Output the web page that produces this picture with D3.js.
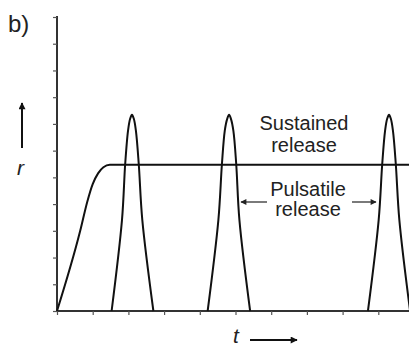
<!DOCTYPE html>
<html>
<head>
<meta charset="utf-8">
<script src="https://cdn.jsdelivr.net/npm/d3@7"></script>
<style>
  body { margin: 0; background: #fff; }
  svg { display: block; font-family: "Liberation Sans", Arial, sans-serif; }
</style>
</head>
<body>
<div id="chart"></div>
<script>
// sustained release curve (t, r)
let sustained = [[0, 0], [0.65, 3.0], [0.85, 4.1], [1.0, 4.75], [1.15, 5.15], [1.3, 5.38], [1.48, 5.47], [10, 5.47]];

// pulsatile release, three pulses
let pulse1 = [[1.53, 0], [1.82, 3.4], [1.91, 5.5], [1.99, 6.75], [2.05, 7.2], [2.1, 7.34], [2.15, 7.2], [2.21, 6.75], [2.29, 5.5], [2.39, 3.4], [2.7, 0]];
let pulse2 = [[4.22, 0], [4.52, 3.4], [4.62, 5.5], [4.7, 6.75], [4.77, 7.2], [4.82, 7.34], [4.87, 7.2], [4.94, 6.75], [5.02, 5.5], [5.11, 3.4], [5.41, 0]];
let pulse3 = [[8.71, 0], [9.01, 3.4], [9.11, 5.5], [9.19, 6.75], [9.25, 7.2], [9.3, 7.34], [9.35, 7.2], [9.41, 6.75], [9.49, 5.5], [9.59, 3.4], [9.89, 0]];

let xTicks = d3.range(0, 11);
let yTicks = d3.range(0, 12);

let w = 409, h = 347;

const svg = d3.select("#chart")
  .append("svg")
  .attr("width", w)
  .attr("height", h);

const xScale = d3.scaleLinear()
  .domain([0, 10])
  .range([57, 414]);

const yScale = d3.scaleLinear()
  .domain([0, 11])
  .range([311, 17]);

const xAxis = d3.axisBottom(xScale)
  .tickValues(xTicks)
  .tickSizeInner(4)
  .tickSizeOuter(0)
  .tickFormat("");

const yAxis = d3.axisLeft(yScale)
  .tickValues(yTicks)
  .tickSizeInner(4)
  .tickSizeOuter(0)
  .tickFormat("");

let gx = svg.append("g")
  .attr("transform", "translate(0," + yScale(0) + ")")
  .call(xAxis);
gx.select(".domain").attr("stroke", "#333").attr("stroke-width", 2).attr("d", "M" + xScale(0) + ",0H" + w);
gx.selectAll(".tick line").attr("stroke", "#555").attr("stroke-width", 1.2);

let gy = svg.append("g")
  .attr("transform", "translate(" + xScale(0) + ",0)")
  .call(yAxis);
gy.select(".domain").attr("stroke", "#333").attr("stroke-width", 2).attr("d", "M0," + (yScale(11) - 1) + "V" + yScale(0));
gy.selectAll(".tick line").attr("stroke", "#555").attr("stroke-width", 1.2);

let line = d3.line()
  .x(d => xScale(d[0]))
  .y(d => yScale(d[1]));

svg.append("path")
  .attr("d", line.curve(d3.curveMonotoneX)(sustained))
  .attr("fill", "none")
  .attr("stroke", "#111")
  .attr("stroke-width", 2);

[pulse1, pulse2, pulse3].forEach(p => {
  svg.append("path")
    .attr("d", line.curve(d3.curveCatmullRom)(p))
    .attr("fill", "none")
    .attr("stroke", "#111")
    .attr("stroke-width", 2);
});

// arrow heads
let defs = svg.append("defs");
defs.append("marker")
  .attr("id", "head")
  .attr("viewBox", "0 0 10 10")
  .attr("refX", 9).attr("refY", 5)
  .attr("markerWidth", 10).attr("markerHeight", 6)
  .attr("markerUnits", "userSpaceOnUse")
  .attr("orient", "auto")
  .append("path")
  .attr("d", "M0,0L10,5L0,10Z")
  .attr("fill", "#222");
defs.append("marker")
  .attr("id", "bighead")
  .attr("viewBox", "0 0 10 10")
  .attr("refX", 9).attr("refY", 5)
  .attr("markerWidth", 11).attr("markerHeight", 7)
  .attr("markerUnits", "userSpaceOnUse")
  .attr("orient", "auto")
  .append("path")
  .attr("d", "M0,0L10,5L0,10Z")
  .attr("fill", "#111");

// labels
svg.append("text").attr("x", 8).attr("y", 32).attr("font-size", 24).attr("fill", "#222").text("b)");

svg.append("line").attr("x1", 22).attr("y1", 148).attr("x2", 22).attr("y2", 103)
  .attr("stroke", "#111").attr("stroke-width", 2).attr("marker-end", "url(#bighead)");
svg.append("text").attr("x", 17).attr("y", 175).attr("font-size", 21).attr("font-style", "italic").attr("fill", "#222").text("r");

svg.append("text").attr("x", 233).attr("y", 343).attr("font-size", 21).attr("font-style", "italic").attr("fill", "#222").text("t");
svg.append("line").attr("x1", 250).attr("y1", 340).attr("x2", 297).attr("y2", 340)
  .attr("stroke", "#111").attr("stroke-width", 2).attr("marker-end", "url(#bighead)");

let ann = svg.append("g").attr("font-size", 20).attr("fill", "#222").attr("text-anchor", "middle");
ann.append("text").attr("x", 304).attr("y", 130).text("Sustained");
ann.append("text").attr("x", 304).attr("y", 152).text("release");
ann.append("text").attr("x", 308).attr("y", 196).text("Pulsatile");
ann.append("text").attr("x", 308).attr("y", 216).text("release");

svg.append("line").attr("x1", 267).attr("y1", 202).attr("x2", 241).attr("y2", 202)
  .attr("stroke", "#222").attr("stroke-width", 1.2).attr("marker-end", "url(#head)");
svg.append("line").attr("x1", 352).attr("y1", 202).attr("x2", 376).attr("y2", 202)
  .attr("stroke", "#222").attr("stroke-width", 1.2).attr("marker-end", "url(#head)");
</script>
</body>
</html>
